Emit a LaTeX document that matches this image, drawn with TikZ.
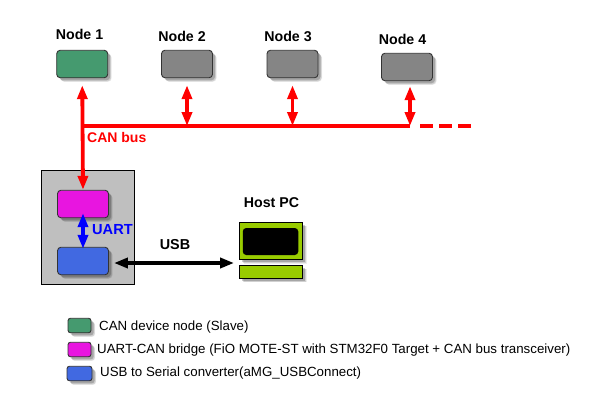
\documentclass[tikz,border=0pt]{standalone}
\usepackage{fontspec}
\setmainfont{Liberation Sans}
\usetikzlibrary{arrows.meta,shadows}
\definecolor{nodegreen}{HTML}{459A6F}
\definecolor{nodegray}{HTML}{858585}
\definecolor{nodemag}{HTML}{E815E0}
\definecolor{nodeblue}{HTML}{4169E1}
\definecolor{pcgreen}{HTML}{99CC00}
\definecolor{edgedark}{HTML}{333333}
\tikzset{
  softshadow/.style={
    general shadow={shadow xshift=4pt,shadow yshift=-4pt,fill=black,opacity=.07,rounded corners=3pt,scale=1.06},
    general shadow={shadow xshift=3.5pt,shadow yshift=-3.5pt,fill=black,opacity=.12,rounded corners=3pt},
    general shadow={shadow xshift=2.5pt,shadow yshift=-2.5pt,fill=black,opacity=.2,rounded corners=3pt}},
  devbox/.style={draw=edgedark,line width=.9pt,rounded corners=3.5pt,minimum width=51pt,minimum height=27.5pt,inner sep=0pt,softshadow},
  keybox/.style={draw=edgedark,line width=.9pt,rounded corners=2.5pt,minimum width=23pt,minimum height=14.5pt,inner sep=0pt,softshadow},
  pcpart/.style={draw=black,line width=.8pt,fill=pcgreen,minimum width=63pt,inner sep=0pt,softshadow},
  title/.style={font=\fontsize{14.2}{16}\selectfont\bfseries,inner sep=0pt,anchor=center},
  keytext/.style={font=\fontsize{13.3}{15}\selectfont,inner sep=0pt,anchor=west},
  bus/.style={draw=red,line width=3.8pt},
  redlink/.style={bus,{Triangle[length=14pt,width=10pt]}-{Triangle[length=14pt,width=10pt]}},
  bluelink/.style={draw=blue,line width=3.8pt,{Triangle[length=14pt,width=10pt]}-{Triangle[length=14pt,width=10pt]}},
  blacklink/.style={draw=black,line width=3.8pt,{Triangle[length=14pt,width=10pt]}-{Triangle[length=14pt,width=10pt]}}
}
\begin{document}
\begin{tikzpicture}[x=1pt,y=-1pt]
\useasboundingbox (0,0) rectangle (600,400);
\fill[white] (0,0) rectangle (600,400);
% enclosure
\node[draw=black,line width=.9pt,fill=black!25,minimum width=93.5pt,minimum height=114pt,inner sep=0pt] (encl) at (88,227) {};
% nodes
\node[devbox,fill=nodegreen] (n1) at (82.2,64) {};
\node[devbox,fill=nodegray] (n2) at (187,64) {};
\node[devbox,fill=nodegray] (n3) at (292.5,64) {};
\node[devbox,fill=nodegray] (n4) at (407,67) {};
\node[devbox,fill=nodemag] (bridge) at (83,204) {};
\node[devbox,fill=nodeblue] (conv) at (83,261) {};
% host PC
\node[pcpart,minimum height=37.5pt] (pc) at (271,241) {};
\node[draw=none,fill=black,rounded corners=3.5pt,minimum width=55.5pt,minimum height=27pt,inner sep=0pt] (screen) at (270.5,241.5) {};
\node[pcpart,minimum height=13pt] (pcbase) at (271,271.8) {};
% titles
\node[title] (t1) at (79.5,34) {Node 1};
\node[title] (t2) at (182,36) {Node 2};
\node[title] (t3) at (288,36) {Node 3};
\node[title] (t4) at (402.5,39) {Node 4};
\node[title] (thost) at (271.5,203) {Host PC};
% bus
\coordinate (j1) at (83,126);
\coordinate (j2) at (187,126);
\coordinate (j3) at (292.5,126);
\coordinate (j4) at (410,126);
\coordinate (d0) at (420,126);
\coordinate (d1) at (471,126);
\draw[redlink,shorten <=7pt] (n1.south) -- (bridge.north);
\draw[bus] (j1) -- (j4);
\draw[bus,dash pattern=on 13pt off 6pt] (d0) -- (d1);
\draw[redlink,shorten <=7pt] (n2.south) -- (j2);
\draw[redlink,shorten <=7pt] (n3.south) -- (j3);
\draw[redlink,shorten <=5pt] (n4.south -| j4) -- (j4);
\node[font=\fontsize{14}{16}\selectfont\bfseries,text=red,inner sep=0pt,anchor=west] (canlbl) at (87,137) {CAN bus};
% UART, USB
\draw[bluelink,shorten <=-5pt,shorten >=-2pt] (bridge.south) -- (conv.north);
\node[font=\fontsize{14.6}{16}\selectfont\bfseries,text=blue,inner sep=0pt,anchor=west] (uartlbl) at (92,230) {UART};
\draw[blacklink,shorten <=5pt,shorten >=5pt] (conv.east |- 0,263) -- (pc.west |- 0,263);
\node[font=\fontsize{14.4}{16}\selectfont\bfseries,inner sep=0pt] (usblbl) at (175,245) {USB};
% legend
\node[keybox,fill=nodegreen] (k1) at (79.5,325.5) {};
\node[keybox,fill=nodemag] (k2) at (79.5,349.5) {};
\node[keybox,fill=nodeblue,minimum width=25pt] (k3) at (79.5,373.5) {};
\node[keytext] (l1) at (99,327) {CAN device node (Slave)};
\node[keytext] (l2) at (97,350.5) {UART-CAN bridge (FiO MOTE-ST with STM32F0 Target + CAN bus transceiver)};
\node[keytext] (l3) at (100,373.5) {USB to Serial converter(aMG\_USBConnect)};
\end{tikzpicture}
\end{document}
